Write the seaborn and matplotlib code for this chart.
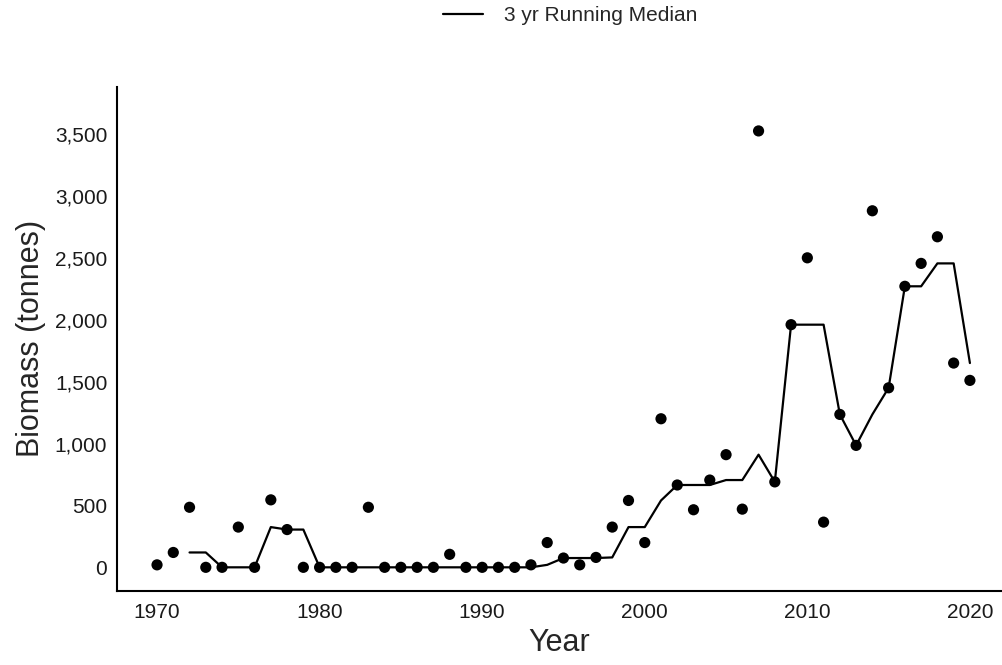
import matplotlib
matplotlib.use("Agg")
import matplotlib.pyplot as plt
import matplotlib.ticker as mticker
import seaborn as sns
import pandas as pd

years = [1970, 1971, 1972, 1973, 1974, 1975, 1976, 1977, 1978, 1979,
         1980, 1981, 1982, 1983, 1984, 1985, 1986, 1987, 1988, 1989,
         1990, 1991, 1992, 1993, 1994, 1995, 1996, 1997, 1998, 1999,
         2000, 2001, 2002, 2003, 2004, 2005, 2006, 2007, 2008, 2009,
         2010, 2011, 2012, 2013, 2014, 2015, 2016, 2017, 2018, 2019,
         2020]
biomass = [20, 120, 485, 0, 0, 325, 0, 545, 305, 0,
           0, 0, 0, 485, 0, 0, 0, 0, 105, 0,
           0, 0, 0, 20, 200, 75, 20, 80, 325, 540,
           200, 1200, 665, 465, 705, 910, 470, 3525, 690, 1960,
           2500, 365, 1235, 985, 2880, 1450, 2270, 2455, 2670, 1650,
           1510]
y_ticks = [0, 500, 1000, 1500, 2000, 2500, 3000, 3500]
x_ticks = [1970, 1980, 1990, 2000, 2010, 2020]

df = pd.DataFrame({"Year": years, "Biomass": biomass})
# trailing 3 yr running median
df["Median"] = df["Biomass"].rolling(3).median()

sns.set_style("white")
plt.rcParams["font.family"] = ["Liberation Sans", "DejaVu Sans"]

fig = plt.figure(figsize=(10.02, 6.65), dpi=100)
ax = fig.add_axes([0.1168, 0.1117, 0.882, 0.7575])

sns.lineplot(data=df, x="Year", y="Median", ax=ax, color="black", lw=1.6,
             label="3 yr Running Median", legend=False)
sns.scatterplot(data=df, x="Year", y="Biomass", ax=ax, color="black",
                s=65, edgecolor="none", legend=False, zorder=3)

ax.set_xlim(1967.54, 2021.9)
ax.set_ylim(-189, 3880)
ax.set_xticks(x_ticks)
ax.set_yticks(y_ticks)
ax.yaxis.set_major_formatter(mticker.FuncFormatter(lambda v, p: f"{int(v):,}"))

for side in ["top", "right"]:
    ax.spines[side].set_visible(False)
for side in ["left", "bottom"]:
    ax.spines[side].set_linewidth(1.5)
    ax.spines[side].set_color("black")
ax.tick_params(axis="both", length=4, width=1.2, color="#333333",
               labelsize=15, labelcolor="#1a1a1a")
ax.tick_params(axis="y", pad=3)
ax.tick_params(axis="x", pad=5)

ax.set_xlabel("Year", fontsize=22, labelpad=4)
ax.set_ylabel("Biomass (tonnes)", fontsize=22, labelpad=6)

handles, labels = ax.get_legend_handles_labels()
fig.legend(handles, labels, loc="center", bbox_to_anchor=(0.569, 0.977),
           frameon=False, fontsize=15, handlelength=1.9, handletextpad=1.0)

fig.savefig("out.png", dpi=100)
